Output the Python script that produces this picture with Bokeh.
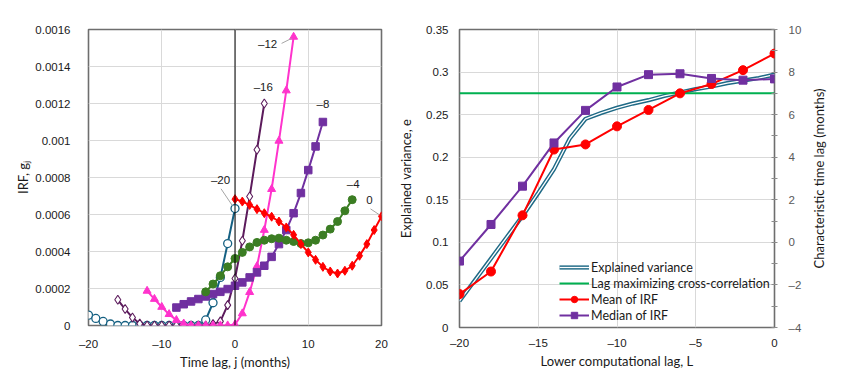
import math
from bokeh.plotting import figure
from bokeh.models import Range1d, LinearAxis, FixedTicker, Label, Span, Legend, LegendItem
from bokeh.layouts import row
from bokeh.embed import file_html
from bokeh.resources import INLINE

# ---------------- data: left panel (IRF for several lower computational lags) ----------------
lags_L = [-20, -16, -12, -8, -4, 0]
series_labels = ["–20", "–16", "–12", "–8", "–4", "0"]
irf_m20 = [0.000056, 0.000038, 0.000022, 0.000008, 0, 0, 0, 0, 0, 0, 0, 0, 0, 0, 0, 0,
           0.00003, 0.000123, 0.00026, 0.000443, 0.000632]
irf_m16 = [0.000139, 0.000089, 0.000043, 0.00001, 0, 0, 0, 0, 0, 0, 0, 0, 0,
           0.000008, 0.000022, 0.00011, 0.000254, 0.000458, 0.000697, 0.00095, 0.0012]
irf_m12 = [0.000187, 0.000143, 0.0001, 0.000061, 0.000029, 0.00001, 0, 0, 0, 0, 0, 0,
           0.000005, 0.000065, 0.00018, 0.00032, 0.000516, 0.000737, 0.000998, 0.00127, 0.00156]
irf_m8 = [0.000097, 0.000115, 0.00013, 0.000143, 0.000157, 0.00017, 0.000182, 0.000197,
          0.000215, 0.000233, 0.00026, 0.000287, 0.000323, 0.000371, 0.00044, 0.000516,
          0.000607, 0.000716, 0.00084, 0.000968, 0.0011]
irf_m4 = [0.000182, 0.000224, 0.000269, 0.000317, 0.000362, 0.000395, 0.000425, 0.000449,
          0.000461, 0.000469, 0.000472, 0.000461, 0.000454, 0.000443, 0.000447, 0.000461,
          0.000489, 0.000521, 0.000562, 0.00062, 0.00068]
irf_0 = [0.000683, 0.00067, 0.000652, 0.000629, 0.000607, 0.000588, 0.000562, 0.00053,
         0.00049, 0.00044, 0.000395, 0.000355, 0.000317, 0.000292, 0.000281, 0.000296,
         0.000323, 0.000377, 0.00044, 0.000516, 0.00059]
x1_ticks = [-20, -10, 0, 10, 20]
y1_ticks = [0, 0.0002, 0.0004, 0.0006, 0.0008, 0.001, 0.0012, 0.0014, 0.0016]
y1_tick_labels = ["0", "0.0002", "0.0004", "0.0006", "0.0008", "0.001", "0.0012", "0.0014", "0.0016"]

# ---------------- data: right panel ----------------
ev_L = list(range(-20, 1))
explained_var = [0.031, 0.056, 0.081, 0.106, 0.131, 0.158, 0.186, 0.222, 0.245, 0.252, 0.258,
                 0.263, 0.267, 0.272, 0.276, 0.280, 0.283, 0.287, 0.290, 0.293, 0.297]
lag_max_xcorr = 7.0
irf_L = [-20, -18, -16, -14, -12, -10, -8, -6, -4, -2, 0]
mean_irf = [-2.43, -1.37, 1.27, 4.36, 4.60, 5.45, 6.22, 7.0, 7.44, 8.09, 8.87]
median_irf = [-0.88, 0.84, 2.64, 4.67, 6.20, 7.30, 7.88, 7.92, 7.70, 7.62, 7.68]
x2_ticks = [-20, -15, -10, -5, 0]
y2_ticks = [0, 0.05, 0.1, 0.15, 0.2, 0.25, 0.3, 0.35]
y2_tick_labels = ["0", "0.05", "0.1", "0.15", "0.2", "0.25", "0.3", "0.35"]
r2_ticks = [-4, -2, 0, 2, 4, 6, 8, 10]
lag_range = (-4, 10)
right_title = "Characteristic time lag (months)"

# ---------------- styles ----------------
TICK_FONT = "Liberation Sans"
TITLE_FONT = "Lato"
GRID = "#D9D9D9"
FRAME = "#6E6E6E"
TXT = "#1A1A1A"


def fmt(v):
    return ("%g" % v).replace("-", "\u2013")


def style_axes(p):
    for ax in p.axis:
        ax.major_label_text_font = TICK_FONT
        ax.major_label_text_font_size = "11.5px"
        ax.major_label_text_color = TXT
        ax.axis_label_text_font = TITLE_FONT
        ax.axis_label_text_font_size = "13px"
        ax.axis_label_text_font_style = "normal"
        ax.axis_label_text_color = TXT
        ax.major_tick_line_color = None
        ax.major_tick_in = 0
        ax.major_tick_out = 0
        ax.minor_tick_line_color = None
        ax.minor_tick_in = 0
        ax.minor_tick_out = 0
        ax.axis_line_color = None
    p.outline_line_color = FRAME
    p.outline_line_width = 1.6
    p.grid.grid_line_color = GRID
    p.grid.grid_line_width = 1
    p.background_fill_color = "white"
    p.border_fill_color = "white"


# ---------------- left figure ----------------
p1 = figure(frame_width=293, frame_height=296, x_range=Range1d(-20, 20), y_range=Range1d(0, 0.0016),
            output_backend="svg", toolbar_location=None,
            min_border_left=88, min_border_right=14, min_border_top=29, min_border_bottom=52)
style_axes(p1)
p1.xaxis.ticker = FixedTicker(ticks=x1_ticks)
p1.xaxis.major_label_overrides = {t: fmt(t) for t in x1_ticks}
p1.yaxis.ticker = FixedTicker(ticks=y1_ticks)
p1.yaxis.major_label_overrides = dict(zip(y1_ticks, y1_tick_labels))
p1.xgrid.ticker = FixedTicker(ticks=x1_ticks)
p1.ygrid.ticker = FixedTicker(ticks=y1_ticks)
p1.xaxis.axis_label = "Time lag, j (months)"
p1.yaxis.axis_label = "IRF, gⱼ"
p1.yaxis.major_label_standoff = 18
p1.xaxis.major_label_standoff = 12
p1.xaxis.axis_label_standoff = 1
p1.yaxis.axis_label_standoff = 1

p1.add_layout(Span(location=0, dimension="height", line_color="black", line_width=1))

series = [irf_m20, irf_m16, irf_m12, irf_m8, irf_m4, irf_0]
styles = [
    dict(color="#156082", marker="circle", size=8, fill="white", lw=1.3),
    dict(color="#5C1B5C", marker="diamond", size=9, fill="white", lw=1.1),
    dict(color="#FF33CC", marker="triangle", size=8, fill="#FF33CC", lw=1),
    dict(color="#7030A0", marker="square", size=7.5, fill="#7030A0", lw=1),
    dict(color="#3B7D23", marker="circle", size=8, fill="#3B7D23", lw=1),
    dict(color="#FF0000", marker="diamond", size=9, fill="#FF0000", lw=1),
]
ends = []
for L, vals, st in zip(lags_L, series, styles):
    js = list(range(L, L + len(vals)))
    p1.line(js, vals, line_color=st["color"], line_width=2)
    p1.scatter(js, vals, marker=st["marker"], size=st["size"], fill_color=st["fill"],
               line_color=st["color"], line_width=st["lw"])
    ends.append((js[-1], vals[-1]))

# series labels placed at pixel offsets from each series' last point
px_x = 40 / 293.0
px_y = 0.0016 / 296.0
label_off = {"–20": (-14.5, 28.5), "–16": (-1, 17), "–12": (-26, -7),
             "–8": (0, 18), "–4": (1, 16), "0": (-12, 16.5)}
leader_off = {"–20": (-14, 19.8, -2.5, 2.8), "–12": (-12, -6.5, -2, -1.5),
              "0": (-11, 7.5, -2, 1.5)}
for (ex, ey), txt in zip(ends, series_labels):
    dx, dy = label_off[txt]
    p1.add_layout(Label(x=ex, y=ey, x_offset=dx, y_offset=dy, text=txt,
                        text_align="center", text_baseline="middle",
                        text_font=TICK_FONT, text_font_size="11.5px", text_color=TXT))
    if txt in leader_off:
        a, b, c, d = leader_off[txt]
        p1.segment(x0=[ex + a * px_x], y0=[ey + b * px_y], x1=[ex + c * px_x], y1=[ey + d * px_y],
                   line_color="#A6A6A6", line_width=1)

# ---------------- right figure ----------------
p2 = figure(frame_width=315, frame_height=298, x_range=Range1d(-20, 0), y_range=Range1d(0, 0.35),
            output_backend="svg", toolbar_location=None,
            min_border_left=64, min_border_right=26, min_border_top=28, min_border_bottom=49)
p2.extra_y_ranges = {"lag": Range1d(*lag_range)}
rax = LinearAxis(y_range_name="lag")
p2.add_layout(rax, "right")
style_axes(p2)
p2.xaxis.ticker = FixedTicker(ticks=x2_ticks)
p2.xaxis.major_label_overrides = {t: fmt(t) for t in x2_ticks}
p2.xgrid.ticker = FixedTicker(ticks=x2_ticks)
p2.yaxis[0].ticker = FixedTicker(ticks=y2_ticks)
p2.yaxis[0].major_label_overrides = dict(zip(y2_ticks, y2_tick_labels))
p2.ygrid.ticker = FixedTicker(ticks=y2_ticks)
rax.ticker = FixedTicker(ticks=r2_ticks, minor_ticks=list(range(-4, 11)))
rax.major_label_overrides = {t: fmt(t) for t in r2_ticks}
rax.major_label_text_color = "#595959"
rax.minor_tick_line_color = "#8C8C8C"
rax.minor_tick_in = 3
rax.minor_tick_out = 3
p2.xaxis.axis_label = "Lower computational lag, L"
p2.yaxis[0].axis_label = "Explained variance, e"
p2.yaxis[0].major_label_standoff = 11
rax.major_label_standoff = 11
p2.xaxis.major_label_standoff = 9
p2.xaxis.axis_label_standoff = 1
p2.yaxis[0].axis_label_standoff = 9

ev_outer = p2.line(ev_L, explained_var, line_color="#1F6A86", line_width=4.2)
ev_inner = p2.line(ev_L, explained_var, line_color="white", line_width=1.3)
green = p2.line(ev_L, [lag_max_xcorr] * len(ev_L), line_color="#00B050", line_width=2,
                y_range_name="lag")
mean_line = p2.line(irf_L, mean_irf, line_color="#FF0000", line_width=2, y_range_name="lag")
mean_pts = p2.scatter(irf_L, mean_irf, marker="circle", size=9, fill_color="#FF0000",
                      line_color="#FF0000", y_range_name="lag")
med_line = p2.line(irf_L, median_irf, line_color="#7030A0", line_width=2, y_range_name="lag")
med_pts = p2.scatter(irf_L, median_irf, marker="square", size=8, fill_color="#7030A0",
                     line_color="#7030A0", y_range_name="lag")

legend = Legend(items=[
    LegendItem(label="Explained variance", renderers=[ev_outer, ev_inner]),
    LegendItem(label="Lag maximizing cross-correlation", renderers=[green]),
    LegendItem(label="Mean of IRF", renderers=[mean_line, mean_pts]),
    LegendItem(label="Median of IRF", renderers=[med_line, med_pts]),
], location=(100, 4))
legend.background_fill_alpha = 0
legend.border_line_alpha = 0
legend.label_text_font = TITLE_FONT
legend.label_text_font_size = "12.5px"
legend.label_text_color = TXT
legend.glyph_width = 30
legend.glyph_height = 16
legend.label_height = 16
legend.label_standoff = 2
legend.spacing = 0
legend.padding = 0
legend.margin = 0
p2.add_layout(legend)

# ---------------- narrow strip holding the secondary-axis title (reads bottom to top) ----------------
p3 = figure(frame_width=28, frame_height=298, x_range=Range1d(0, 1), y_range=Range1d(*lag_range),
            output_backend="svg", toolbar_location=None,
            x_axis_location=None, y_axis_location=None,
            min_border_left=0, min_border_right=0, min_border_top=28, min_border_bottom=49)
p3.grid.visible = False
p3.outline_line_color = None
p3.background_fill_color = "white"
p3.border_fill_color = "white"
p3.add_layout(Label(x=0.5, y=sum(lag_range) / 2, angle=math.pi / 2, text=right_title,
                    text_align="center", text_baseline="middle",
                    text_font=TITLE_FONT, text_font_size="13px", text_color=TXT))

layout = row(p1, p2, p3)
open("out.html", "w").write(file_html(layout, INLINE))
